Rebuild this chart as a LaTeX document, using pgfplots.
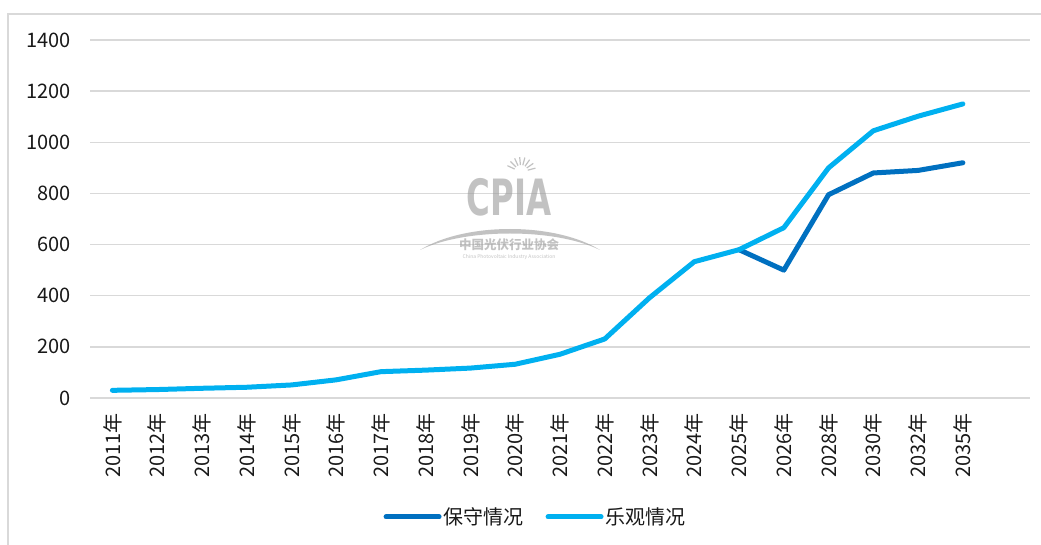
\documentclass[border=0pt]{standalone}
\usepackage{fontspec}
\setmainfont{Noto Sans CJK SC}
\newfontfamily\condfont{DejaVu Sans Condensed}[BoldFont={DejaVu Sans Condensed Bold}]
\usepackage{pgfplots}
\pgfplotsset{compat=1.18}
\usetikzlibrary{calc}
\definecolor{darkblue}{HTML}{0070C0}
\definecolor{lightblue}{HTML}{00B0F0}
\definecolor{gridgray}{HTML}{D9D9D9}
\definecolor{wmgray}{HTML}{9A9A9A}
\begin{document}
\begin{tikzpicture}
\path[use as bounding box] (0pt,0pt) rectangle (1041pt,544pt);
\draw[color=gridgray, line width=1.5pt] (8pt,-5pt) -- (8pt,530pt) -- (1050pt,530pt);
\begin{axis}[
  at={(90pt,146pt)}, anchor=south west,
  scale only axis, width=940pt, height=358pt,
  xmin=-0.5, xmax=20.5, ymin=0, ymax=1400,
  ytick={0,200,...,1400},
  xtick={0,...,19},
  xticklabels={2011年,2012年,2013年,2014年,2015年,2016年,2017年,2018年,2019年,2020年,2021年,2022年,2023年,2024年,2025年,2026年,2028年,2030年,2032年,2035年},
  ymajorgrids, grid style={gridgray, line width=1.3pt},
  axis line style={draw=none},
  major tick length=0pt,
  tick label style={font=\fontsize{20}{24}\selectfont, text=black!90},
  xticklabel style={rotate=90, anchor=east, inner sep=0pt},
  xticklabel shift=15pt,
  yticklabel style={anchor=east, inner sep=0pt},
  yticklabel shift=19pt,
  /pgf/number format/assume math mode=true,
  /pgf/number format/1000 sep={},
  clip=false,
  legend style={at={(0.474,-0.332)}, anchor=center, legend columns=2, draw=none, fill=none,
    font=\fontsize{20}{24}\selectfont, text=black!90,
    /tikz/every even column/.append style={column sep=20pt}},
  legend image code/.code={\draw[#1, line cap=round] (0pt,0pt) -- (53pt,0pt);},
]
\addplot[darkblue, line width=5pt, line join=round, line cap=round] coordinates {
(14,580) (15,500) (16,795) (17,880) (18,890) (19,920)};
\addlegendentry{保守情况}
\addplot[lightblue, line width=5pt, line join=round, line cap=round] coordinates {
(0,30) (1,33) (2,38) (3,42) (4,51) (5,71) (6,103) (7,109) (8,117) (9,132)
(10,171) (11,231) (12,392) (13,533) (14,580) (15,666) (16,900) (17,1045) (18,1102) (19,1150)};
\addlegendentry{乐观情况}
\end{axis}
% watermark
\begin{scope}[opacity=0.6]
\node[text=wmgray, font=\condfont\bfseries\fontsize{50}{50}\selectfont, xscale=0.72] at (509pt,347pt) {CPIA};
\fill[wmgray] (420pt,294pt) .. controls (465pt,322pt) and (555pt,322pt) .. (600pt,294pt)
  .. controls (555pt,316pt) and (465pt,316pt) .. cycle;
\node[text=wmgray, font=\bfseries\fontsize{12.5}{13}\selectfont] at (509pt,299pt) {中国光伏行业协会};
\node[text=wmgray, font=\fontsize{5}{6}\selectfont] at (509pt,287pt) {China Photovoltaic Industry Association};
\foreach \a in {15,35,...,165} {
  \draw[wmgray, line width=1.2pt] ($(521pt,372pt)+(\a:7pt)$) -- ($(521pt,372pt)+(\a:15pt)$);
}
\end{scope}
\end{tikzpicture}
\end{document}
